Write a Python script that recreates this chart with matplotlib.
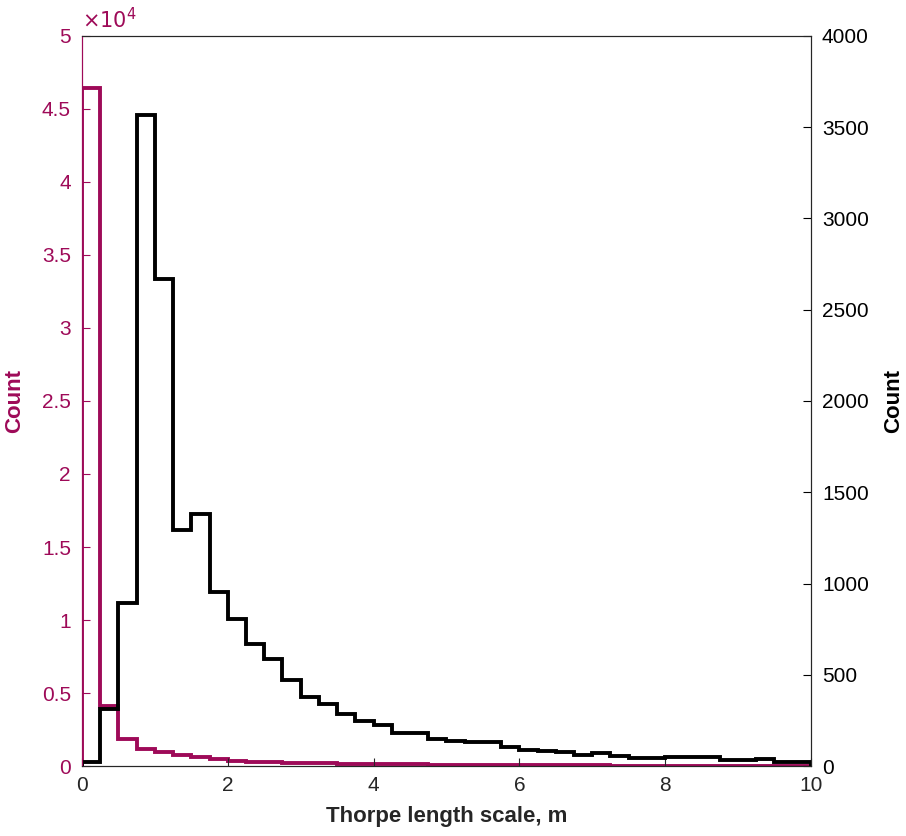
import matplotlib
matplotlib.use('Agg')
from matplotlib import pyplot, ticker
import numpy

# Thorpe length scale histograms, bins of 0.25 m from 0 to 10 m
bin_edges = numpy.arange(0, 10.001, 0.25)

# left axis (crimson), counts
counts_left = [46450, 4100, 1830, 1190, 960, 775, 595, 460, 365, 295,
               275, 230, 190, 175, 160, 145, 130, 118, 106, 96,
               86, 78, 70, 63, 57, 51, 46, 41, 37, 33,
               30, 27, 24, 21, 19, 17, 15, 13, 11, 10]

# right axis (black), counts
counts_right = [20, 312, 893, 3567, 2669, 1293, 1381, 953, 808, 668,
                586, 471, 378, 340, 285, 248, 226, 179, 183, 148,
                137, 130, 130, 102, 88, 83, 78, 60, 69, 55,
                46, 46, 49, 49, 49, 33, 33, 37, 24, 24]

xticks = [0, 2, 4, 6, 8, 10]
left_ticks = numpy.arange(0, 50001, 5000)
right_ticks = numpy.arange(0, 4001, 500)

crimson = '#9E0A58'
axcolor = '#262626'

pyplot.rcParams['font.family'] = ['Liberation Sans', 'DejaVu Sans']
pyplot.rcParams['font.size'] = 15

fig = pyplot.figure(figsize=(9.06, 8.36), dpi=100)
ax = fig.add_axes([0.0905, 0.0837, 0.8045, 0.8733])
ax2 = ax.twinx()

ax.stairs(counts_left, bin_edges, color=crimson, linewidth=2.8)
ax2.stairs(counts_right, bin_edges, color='black', linewidth=2.8)

ax.set_xlim(0, 10)
ax.set_ylim(0, 50000)
ax2.set_ylim(0, 4000)
ax.set_xticks(xticks)
ax.set_yticks(left_ticks)
ax2.set_yticks(right_ticks)

ax.yaxis.set_major_formatter(ticker.FuncFormatter(lambda v, p: '%g' % (v / 1e4)))
ax.text(0.0, 1.005, r'$\times 10^4$', transform=ax.transAxes, color=crimson,
        fontsize=15, ha='left', va='bottom')

ax.tick_params(axis='both', direction='in', length=6, width=0.8, labelsize=15)
ax.tick_params(axis='x', colors=axcolor, pad=7)
ax.tick_params(axis='y', colors=crimson, pad=8)
ax2.tick_params(axis='y', direction='in', length=6, width=0.8, labelsize=15,
                colors='black', pad=8)

for a in (ax, ax2):
    a.spines['top'].set_color(axcolor)
    a.spines['bottom'].set_color(axcolor)
    a.spines['left'].set_color(crimson)
    a.spines['right'].set_color(axcolor)
    for s in a.spines.values():
        s.set_linewidth(0.8)

ax.set_xlabel('Thorpe length scale, m', fontsize=16, fontweight='bold', color=axcolor, labelpad=8)
ax.set_ylabel('Count', fontsize=16, fontweight='bold', color=crimson, labelpad=12)
ax2.set_ylabel('Count', fontsize=16, fontweight='bold', color='black', labelpad=10)

fig.savefig('out.png', dpi=100, facecolor='white')
